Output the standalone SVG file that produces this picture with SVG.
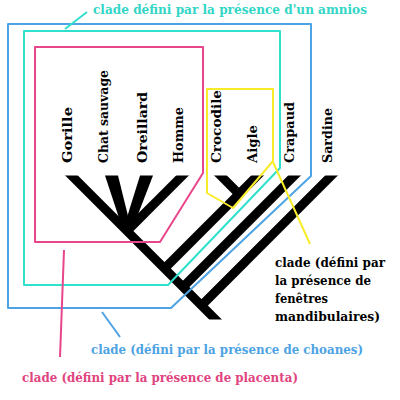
<svg xmlns="http://www.w3.org/2000/svg" width="400" height="400" viewBox="0 0 400 400">
<style>
.sp{font-family:"DejaVu Serif","Liberation Serif",serif;font-weight:bold;font-size:12px;fill:#000}
.lb{font-family:"DejaVu Serif","Liberation Serif",serif;font-weight:bold;font-size:13px}
.br{stroke:#000;stroke-width:9;fill:none}
.bx{fill:none;stroke-width:2;stroke-linejoin:round}
</style>
<defs>
<clipPath id="tc"><rect x="0" y="175.5" width="400" height="144"/></clipPath>
</defs>
<rect width="400" height="400" fill="#fff"/>

<g id="connectors">
<g clip-path="url(#tc)">
<line class="br" x1="66" y1="170" x2="222" y2="326"/>
<line class="br" x1="187" y1="171" x2="126" y2="232"/>
<line class="br" x1="262" y1="171" x2="163" y2="270"/>
<line class="br" x1="216" y1="171" x2="241" y2="196"/>
<line class="br" x1="299" y1="171" x2="182" y2="288"/>
<line class="br" x1="336" y1="171" x2="200" y2="307"/>
</g>
<polygon points="105,175.5 118,175.5 131,228 123,230" fill="#000"/>
<polygon points="140,175.5 153,175.5 132,230 124,227" fill="#000"/>
</g>

<g id="clade-choanes">
<polygon class="bx" stroke="#4da3e3" points="8,24 311,24 311,176 171,308 8,308"/>
<line stroke="#4da3e3" stroke-width="2" x1="102" y1="312" x2="120" y2="337"/>
<text class="lb" fill="#4da3e3" x="91" y="354" textLength="272" lengthAdjust="spacingAndGlyphs">clade (défini par la présence de choanes)</text>
</g>

<g id="clade-amnios">
<polygon class="bx" stroke="#2fe0cc" points="24,31 280,31 280,168 168,285 24,285"/>
<line stroke="#2fe0cc" stroke-width="2" x1="65" y1="29" x2="87" y2="12"/>
<text class="lb" fill="#33d6c6" x="93" y="14" textLength="274" lengthAdjust="spacingAndGlyphs">clade défini par la présence d'un amnios</text>
</g>

<g id="clade-placenta">
<polygon class="bx" stroke="#e8468a" points="35,47 203,47 203,173 160,242 35,242"/>
<line stroke="#e8468a" stroke-width="2" x1="64" y1="250" x2="60" y2="357"/>
<text class="lb" fill="#e04480" x="22" y="382" textLength="276" lengthAdjust="spacingAndGlyphs">clade (défini par la présence de placenta)</text>
</g>

<g id="clade-fenetres">
<polygon class="bx" stroke="#f8ec2a" points="207,89 273,89 273,161 233,208 207,193"/>
<line stroke="#f8ec2a" stroke-width="2" x1="273" y1="162" x2="310" y2="244"/>
<text class="lb" fill="#000" x="275" y="267" textLength="110" lengthAdjust="spacingAndGlyphs">clade (défini par</text>
<text class="lb" fill="#000" x="275" y="285" textLength="96" lengthAdjust="spacingAndGlyphs">la présence de</text>
<text class="lb" fill="#000" x="275" y="303" textLength="53" lengthAdjust="spacingAndGlyphs">fenêtres</text>
<text class="lb" fill="#000" x="275" y="321" textLength="105" lengthAdjust="spacingAndGlyphs">mandibulaires)</text>
</g>

<g id="gorille"><text class="sp" transform="translate(72,163) rotate(-90)" textLength="56" lengthAdjust="spacingAndGlyphs">Gorille</text></g>
<g id="chat-sauvage"><text class="sp" transform="translate(108,163) rotate(-90)" textLength="93" lengthAdjust="spacingAndGlyphs">Chat sauvage</text></g>
<g id="oreillard"><text class="sp" transform="translate(147,163) rotate(-90)" textLength="71" lengthAdjust="spacingAndGlyphs">Oreillard</text></g>
<g id="homme"><text class="sp" transform="translate(183,163) rotate(-90)" textLength="56" lengthAdjust="spacingAndGlyphs">Homme</text></g>
<g id="crocodile"><text class="sp" transform="translate(221,163) rotate(-90)" textLength="73" lengthAdjust="spacingAndGlyphs">Crocodile</text></g>
<g id="aigle"><text class="sp" transform="translate(257,163) rotate(-90)" textLength="38" lengthAdjust="spacingAndGlyphs">Aigle</text></g>
<g id="crapaud"><text class="sp" transform="translate(294,163) rotate(-90)" textLength="61" lengthAdjust="spacingAndGlyphs">Crapaud</text></g>
<g id="sardine"><text class="sp" transform="translate(332,163) rotate(-90)" textLength="55" lengthAdjust="spacingAndGlyphs">Sardine</text></g>
</svg>
